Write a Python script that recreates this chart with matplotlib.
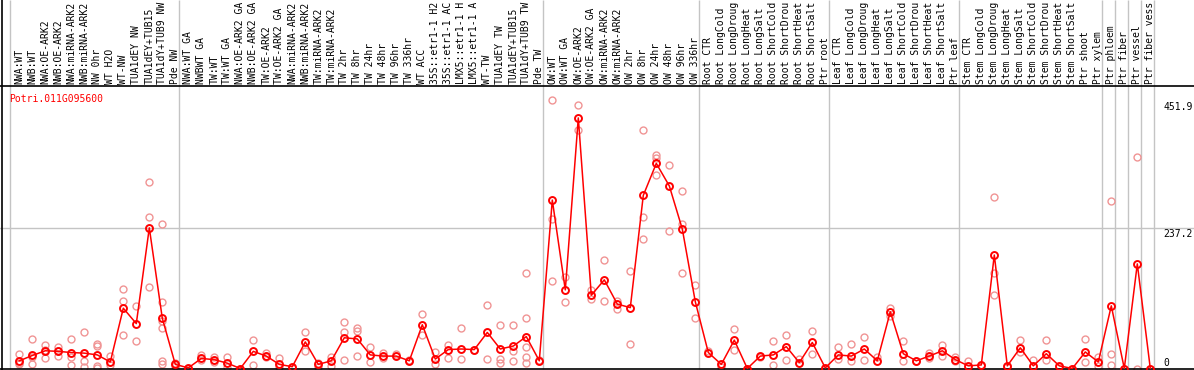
import matplotlib
matplotlib.use("Agg")
import matplotlib.pyplot as plt
import matplotlib.transforms as mtransforms
from matplotlib.lines import Line2D

gene_id = "Potri.011G095600"

# labels as visible in the header (long names are truncated there)
sample_labels = [
    "NWA:WT", "NWB:WT", "NWA:OE-ARK2", "NWB:OE-ARK2", "NWA:miRNA-ARK2", "NWB:miRNA-ARK2",
    "NW 0hr", "WT H2O", "WT-NW", "TUA1dEY NW", "TUA1dEY+TUB15", "TUA1dY+TUB9 NW", "Pde NW",
    "NWA:WT GA", "NWBWT GA", "TW:WT", "TW:WT GA", "NWA:OE-ARK2 GA", "NWB:OE-ARK2 GA",
    "TW:OE-ARK2", "TW:OE-ARK2 GA", "NWA:miRNA-ARK2", "NWB:miRNA-ARK2", "TW:miRNA-ARK2",
    "TW:miRNA-ARK2", "TW 2hr", "TW 8hr", "TW 24hr", "TW 48hr", "TW 96hr", "TW 336hr", "WT ACC",
    "35S::etr1-1 H2", "35S::etr1-1 AC", "LMX5::etr1-1 H", "LMX5::etr1-1 A", "WT-TW",
    "TUA1dEY TW", "TUA1dEY+TUB15", "TUA1dY+TUB9 TW", "Pde TW",
    "OW:WT", "OW:WT GA", "OW:OE-ARK2", "OW:OE-ARK2 GA", "OW:miRNA-ARK2", "OW:miRNA-ARK2",
    "OW 2hr", "OW 8hr", "OW 24hr", "OW 48hr", "OW 96hr", "OW 336hr",
    "Root CTR", "Root LongCold", "Root LongDroug", "Root LongHeat", "Root LongSalt",
    "Root ShortCold", "Root ShortDrou", "Root ShortHeat", "Root ShortSalt", "Ptr root",
    "Leaf CTR", "Leaf LongCold", "Leaf LongDroug", "Leaf LongHeat", "Leaf LongSalt",
    "Leaf ShortCold", "Leaf ShortDrou", "Leaf ShortHeat", "Leaf ShortSalt", "Ptr leaf",
    "Stem CTR", "Stem LongCold", "Stem LongDroug", "Stem LongHeat", "Stem LongSalt",
    "Stem ShortCold", "Stem ShortDrou", "Stem ShortHeat", "Stem ShortSalt", "Ptr shoot",
    "Ptr xylem", "Ptr phloem", "Ptr fiber", "Ptr vessel", "Ptr fiber vess",
]

# number of samples in each group (separated by grey lines)
group_sizes = [13, 28, 12, 10, 10, 11, 1, 1, 1, 1]

mean_values = [
    13, 22, 30, 29, 27, 26, 23, 11, 102, 76, 238, 85, 7,
    1, 17, 15, 9, 0, 29, 21, 7, 3, 45, 7, 13, 52, 50, 23, 21, 21, 13, 74,
    16, 32, 33, 32, 61, 33, 38, 54, 13,
    285, 133, 424, 124, 150, 109, 103, 293, 347, 309, 236, 113,
    27, 7, 48, 0, 21, 23, 37, 10, 44, 1,
    23, 21, 33, 13, 96, 25, 13, 21, 30, 15,
    4.5, 6, 192, 4.5, 35, 4.5, 25, 4.5, 0, 28, 11,
    106, 0, 177, 0,
]

replicate_values = [
    [24, 9, 7], [50, 8, 20], [39, 18, 31], [36, 21, 30], [50, 19, 6], [62, 12, 2],
    [42, 38, 5, 1], [21, 6], [134, 115, 57], [105, 47], [316, 256, 138],
    [245, 113, 80, 68, 13, 8], [10, 4],
    [0], [23, 14], [19, 11], [19, 2], [0], [49, 6], [27, 20], [17, 2], [1], [61, 30],
    [10, 3], [20, 5], [79, 61, 15], [69, 63, 21], [36, 11], [26, 18], [25], [14],
    [92, 56], [28, 8], [40, 18], [69, 16], [32], [108, 16], [74, 16, 9], [74, 29, 13],
    [161, 86, 37, 20, 9], [14],
    [455, 253, 148], [154, 113], [446, 404], [133, 117], [184, 115], [115, 101],
    [165, 42], [404, 256, 219], [361, 357, 327], [345, 232], [301, 245, 162], [141, 86],
    [29], [3], [67, 32], [0], [20], [46, 6], [56, 15], [16], [64, 24], [0],
    [37, 16], [41, 12], [53, 15], [19], [103, 89], [47, 12], [13], [26, 18], [39, 21],
    [19, 12],
    [12], [5], [291, 161, 125], [3], [48, 28], [14], [48, 14], [3], [0], [50, 11],
    [19, 5], [283, 25, 6], [0], [358, 0], [0],
]

axis_max = 451.9
axis_mid = 237.2

W, H = 1194, 370
fig = plt.figure(figsize=(W / 100, H / 100), dpi=100)
fig.patch.set_facecolor("white")

# plot area: from pixel row 85 (header line) to bottom
ax_bottom = 1.0
ax_top = 284.5
ax = fig.add_axes([0, ax_bottom / H, 1, (ax_top - ax_bottom) / H])
ax.set_facecolor("white")

# x mapping: pixel = 19.3 + 13.0 * index
x0, dx = 19.3, 13.0
ax.set_xlim((0 - x0) / dx, (W - x0) / dx)
# y mapping: pixel-from-bottom = 1.5 + 0.591 * value
y0, dy = 1.5, 0.591
ax.set_ylim((ax_bottom - y0) / dy, (ax_top - y0) / dy)

mono = "DejaVu Sans Mono"
fs = 7.0
grey = "#c4c4c4"
rep_color = "#f09494"

xs = list(range(len(mean_values)))

# horizontal grid line at middle value
ax.axhline(axis_mid, color=grey, lw=1, zorder=1)

# group separators (extend through header)
header_frac = 1 + (H - ax_top) / (ax_top - ax_bottom)
bounds = [0]
for g in group_sizes:
    bounds.append(bounds[-1] + g)
sep_x = [b - 0.68 for b in bounds]
ax.vlines(sep_x, 0, header_frac, transform=ax.get_xaxis_transform(),
          colors=grey, lw=1, clip_on=False, zorder=1)

# replicates
for i, reps in zip(xs, replicate_values):
    ax.plot([i] * len(reps), reps, linestyle="none", marker="o", ms=5.0,
            mfc="none", mec=rep_color, mew=1.0, zorder=2)

# mean line and markers
ax.plot(xs, mean_values, color="red", lw=1.1, zorder=3)
ax.plot(xs, mean_values, linestyle="none", marker="o", ms=5.0, mfc="none",
        mec="red", mew=1.4, zorder=4)

# sample labels in header
lab_y = (H - 83.5 - ax_bottom) / (ax_top - ax_bottom)
for i, lab in zip(xs, sample_labels):
    ax.text(i, lab_y, lab, rotation=90, ha="center", va="bottom",
            transform=ax.get_xaxis_transform(), family=mono, fontsize=fs,
            color="black", clip_on=False)

# right-side value labels
lx = (1163 - x0) / dx
def off(px):
    return mtransforms.ScaledTranslation(0, px / 100, fig.dpi_scale_trans)
ax.text(lx, axis_max, "451.9", family=mono, fontsize=fs, va="baseline", ha="left",
        transform=ax.transData + off(-8.9))
ax.text(lx, axis_mid, "237.2", family=mono, fontsize=fs, va="baseline", ha="left",
        transform=ax.transData + off(-8.4))
ax.text(lx, 0, "0", family=mono, fontsize=fs, va="baseline", ha="left",
        transform=ax.transData + off(2.8))

# gene id
fig.text(9.3 / W, 1 - 101.5 / H, gene_id, family=mono, fontsize=fs, color="red",
         va="baseline", ha="left")

# spines
for s in ["left", "right"]:
    ax.spines[s].set_visible(False)
ax.spines["top"].set_color("black")
ax.spines["top"].set_linewidth(1.2)
ax.spines["bottom"].set_color("black")
ax.spines["bottom"].set_linewidth(1.2)
ax.set_xticks([])
ax.set_yticks([])

# left border across full figure height
fig.add_artist(Line2D([1.5 / W, 1.5 / W], [0, 1], color="black", lw=1.2,
                      transform=fig.transFigure))

fig.savefig("out.png", dpi=100)
